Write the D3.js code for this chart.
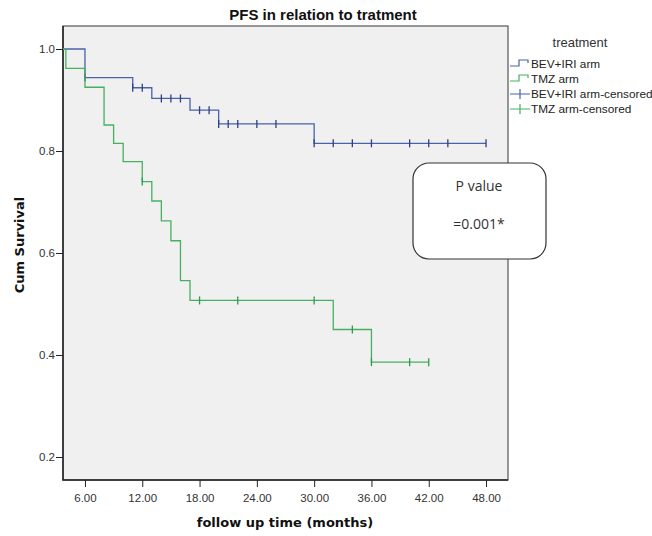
<!DOCTYPE html>
<html>
<head>
<meta charset="utf-8">
<script src="https://cdn.jsdelivr.net/npm/d3@7"></script>
<style>
  body { margin: 0; background: #fff; }
  svg { display: block; }
</style>
</head>
<body>
<div id="chart"></div>
<script>
// survival steps: time of drop and survival after the drop
const bevTimes = [6, 11, 13, 17, 20, 30];
const bevSurv = [0.944, 0.924, 0.903, 0.880, 0.853, 0.815];
const bevCensored = [6, 11, 12, 14, 15, 16, 18, 19, 20, 21, 22, 24, 26, 30, 32, 34, 36, 40, 42, 44, 48];

const tmzTimes = [4, 6, 8, 9, 10, 12, 13, 14, 15, 16, 17, 32, 36];
const tmzSurv = [0.962, 0.925, 0.851, 0.815, 0.779, 0.740, 0.702, 0.663, 0.624, 0.546, 0.507, 0.450, 0.386];
const tmzCensored = [12, 18, 22, 30, 34, 36, 40, 42];

const xTicks = [6, 12, 18, 24, 30, 36, 42, 48];
const yTicks = [0.2, 0.4, 0.6, 0.8, 1.0];
const legendLabels = ["BEV+IRI arm", "TMZ arm", "BEV+IRI arm-censored", "TMZ arm-censored"];

const W = 652, H = 536;
const PLOT = { LEFT: 63, TOP: 26, RIGHT: 508, BOTTOM: 480 };
const BLUE = "#4a62a8", BLUE_DARK = "#2e3f86";
const GREEN = "#47b060", GREEN_DARK = "#2f9a48";

const svg = d3.select("#chart").append("svg")
  .attr("width", W).attr("height", H);

const x = d3.scaleLinear().domain([3.7, 50.3]).range([PLOT.LEFT, PLOT.RIGHT]);
const y = d3.scaleLinear().domain([0.2, 1.0]).range([457, 49]);

// plot background
svg.append("rect")
  .attr("x", PLOT.LEFT).attr("y", PLOT.TOP)
  .attr("width", PLOT.RIGHT - PLOT.LEFT).attr("height", PLOT.BOTTOM - PLOT.TOP)
  .attr("fill", "#f0f0f0")
  .attr("stroke", "#555").attr("stroke-width", 1.2);

// axes
const xAxis = svg.append("g")
  .attr("transform", "translate(0," + PLOT.BOTTOM + ")")
  .call(d3.axisBottom(x).tickValues(xTicks).tickFormat(d3.format(".2f")).tickSizeOuter(0).tickSize(7));
const yAxis = svg.append("g")
  .attr("transform", "translate(" + PLOT.LEFT + ",0)")
  .call(d3.axisLeft(y).tickValues(yTicks).tickFormat(d3.format(".1f")).tickSizeOuter(0).tickSize(7));

[xAxis, yAxis].forEach(a => {
  a.select(".domain").remove();
  a.selectAll("line").attr("stroke", "#222");
  a.selectAll("text")
    .attr("fill", "#333")
    .style("font-family", "Arial, 'Liberation Sans', sans-serif")
    .style("font-size", "11.5px");
});
xAxis.selectAll("text").attr("dy", "1.05em");
yAxis.selectAll("text").attr("x", -8);

// left and bottom axis lines
svg.append("path")
  .attr("d", "M" + PLOT.LEFT + "," + PLOT.TOP + "V" + PLOT.BOTTOM + "H" + PLOT.RIGHT)
  .attr("fill", "none").attr("stroke", "#222").attr("stroke-width", 1.5);

function stepPoints(times, surv) {
  let pts = [[x.domain()[0], 1]];
  times.forEach((t, i) => {
    pts.push([t, i === 0 ? 1 : surv[i - 1]]);
    pts.push([t, surv[i]]);
  });
  return pts;
}

function survAt(times, surv, t) {
  let s = 1;
  times.forEach((tt, i) => { if (tt <= t) s = surv[i]; });
  return s;
}

const line = d3.line().x(d => x(d[0])).y(d => y(d[1]));

function drawCurve(times, surv, censored, color, dark) {
  let pts = stepPoints(times, surv);
  let last = d3.max(censored.concat(times));
  pts.push([last, surv[surv.length - 1]]);
  svg.append("path")
    .attr("d", line(pts))
    .attr("fill", "none")
    .attr("stroke", color)
    .attr("stroke-width", 1.3);
  svg.append("g").selectAll("line")
    .data(censored)
    .join("line")
    .attr("x1", d => x(d)).attr("x2", d => x(d))
    .attr("y1", d => y(survAt(times, surv, d)) - 4)
    .attr("y2", d => y(survAt(times, surv, d)) + 4)
    .attr("stroke", dark)
    .attr("stroke-width", 1.3);
}

drawCurve(bevTimes, bevSurv, bevCensored, BLUE, BLUE_DARK);
drawCurve(tmzTimes, tmzSurv, tmzCensored, GREEN, GREEN_DARK);

// title and axis labels
svg.append("text")
  .attr("x", 323).attr("y", 20)
  .attr("text-anchor", "middle")
  .style("font-family", "Arial, 'Liberation Sans', sans-serif")
  .style("font-weight", "bold").style("font-size", "15px")
  .attr("fill", "#111")
  .text("PFS in relation to tratment");

svg.append("text")
  .attr("transform", "translate(24,245) rotate(-90)")
  .attr("text-anchor", "middle")
  .style("font-family", "'DejaVu Sans', Verdana, sans-serif")
  .style("font-weight", "bold").style("font-size", "13px")
  .attr("fill", "#111")
  .text("Cum Survival");

svg.append("text")
  .attr("x", 285).attr("y", 527)
  .attr("text-anchor", "middle")
  .style("font-family", "'DejaVu Sans', Verdana, sans-serif")
  .style("font-weight", "bold").style("font-size", "13px")
  .attr("fill", "#111")
  .text("follow up time (months)");

// legend
const legend = svg.append("g");
legend.append("text")
  .attr("x", 580).attr("y", 47)
  .attr("text-anchor", "middle")
  .style("font-family", "Arial, 'Liberation Sans', sans-serif")
  .style("font-size", "13px")
  .attr("fill", "#333")
  .text("treatment");

const legendColors = [BLUE, GREEN, BLUE, GREEN];
legendLabels.forEach((lab, i) => {
  let ly = 64 + i * 15;
  let g = legend.append("g").attr("transform", "translate(0," + ly + ")");
  if (i < 2) {
    g.append("path")
      .attr("d", "M510,2H519V-4H528V-1")
      .attr("fill", "none").attr("stroke", legendColors[i]).attr("stroke-width", 1.2);
  } else {
    g.append("path")
      .attr("d", "M510,0H530M520,-5V5")
      .attr("fill", "none").attr("stroke", legendColors[i]).attr("stroke-width", 1.2);
  }
  g.append("text")
    .attr("x", 531).attr("y", 4)
    .style("font-family", "Arial, 'Liberation Sans', sans-serif")
    .style("font-size", "11.8px")
    .attr("fill", "#222")
    .text(lab);
});

// p value note
const note = svg.append("g");
note.append("rect")
  .attr("x", 413).attr("y", 163)
  .attr("width", 133).attr("height", 96)
  .attr("rx", 16).attr("ry", 16)
  .attr("fill", "#fff")
  .attr("stroke", "#333").attr("stroke-width", 1.2);
note.append("text")
  .attr("x", 479).attr("y", 191)
  .attr("text-anchor", "middle")
  .style("font-family", "'Open Sans', 'Noto Sans', sans-serif")
  .style("font-size", "14px")
  .attr("fill", "#333")
  .text("P value");
note.append("text")
  .attr("x", 479).attr("y", 229)
  .attr("text-anchor", "middle")
  .style("font-family", "'Open Sans', 'Noto Sans', sans-serif")
  .style("font-size", "14px")
  .attr("fill", "#333")
  .text("=0.001*");
</script>
</body>
</html>
